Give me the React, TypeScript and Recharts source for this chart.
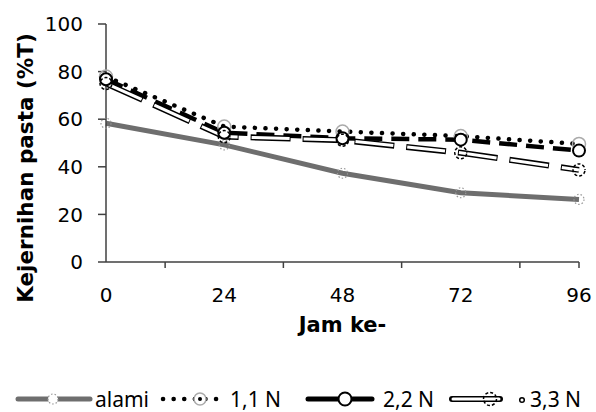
import { LineChart, Line, XAxis, YAxis } from 'recharts';

const hours = [0, 24, 48, 72, 96];
const alami = [58.3, 49.2, 37.3, 29.1, 26.3];
const n11 = [77.9, 56.9, 54.8, 52.9, 49.6];
const n22 = [76.8, 54.3, 52.0, 51.4, 46.8];
const n33 = [75.0, 52.7, 51.2, 45.9, 38.7];
const yTicks = [0, 20, 40, 60, 80, 100];
const xTicks = [0, 12, 24, 36, 48, 60, 72, 84, 96];
const seriesNames = ['alami', '1,1 N', '2,2 N', '3,3 N'];

const data = hours.map((h, i) => ({ jam: h, alami: alami[i], n11: n11[i], n22: n22[i], n33: n33[i] }));

const AXIS = '#404040';
const FONT = '"DejaVu Sans", Verdana, sans-serif';

function XTick(props: any) {
  const { x, y, payload } = props;
  const v = payload.value;
  if (v % 24 === 0) {
    return (
      <g>
        {v === 96 && <line x1={x} y1={y} x2={x} y2={y + 6} stroke={AXIS} strokeWidth={1.5} />}
        <text x={x} y={y + 40} textAnchor="middle" fontSize={20} fontFamily={FONT} fill="#000">
          {v}
        </text>
      </g>
    );
  }
  return <line x1={x} y1={y} x2={x} y2={y + 6} stroke={AXIS} strokeWidth={1.5} />;
}

function Legend() {
  const y = 399;
  const ty = 407;
  const txt = { fontSize: 21, fontFamily: '"Noto Sans", sans-serif', fill: '#000' };
  return (
    <svg width={596} height={412} style={{ position: 'absolute', left: 0, top: 0, pointerEvents: 'none' }}>
      {/* alami */}
      <line x1={18} y1={y} x2={90} y2={y} stroke="#6e6e6e" strokeWidth={5} strokeLinecap="round" />
      <circle cx={53} cy={y} r={5} fill="#fff" stroke="#999" strokeWidth={1.2} strokeDasharray="1.5 2" />
      <text x={95} y={ty} {...txt}>{seriesNames[0]}</text>
      {/* 1,1 N */}
      <line x1={163} y1={y} x2={226} y2={y} stroke="#000" strokeWidth={4.5} strokeDasharray="0.1 10.5" strokeLinecap="round" />
      <circle cx={200} cy={y} r={6} fill="#fff" stroke="#aaa" strokeWidth={1.5} />
      <circle cx={200} cy={y} r={2} fill="#000" />
      <text x={230} y={ty} {...txt}>{seriesNames[1]}</text>
      {/* 2,2 N */}
      <line x1={308} y1={y} x2={372} y2={y} stroke="#000" strokeWidth={5} strokeLinecap="round" />
      <circle cx={345} cy={y} r={6.5} fill="#fff" stroke="#000" strokeWidth={2} />
      <text x={383} y={ty} {...txt}>{seriesNames[2]}</text>
      {/* 3,3 N */}
      <line x1={452} y1={y} x2={500} y2={y} stroke="#000" strokeWidth={6} strokeLinecap="round" />
      <line x1={453} y1={y} x2={499} y2={y} stroke="#fff" strokeWidth={3} strokeLinecap="round" />
      <circle cx={490} cy={y} r={6.5} fill="none" stroke="#000" strokeWidth={1.5} strokeDasharray="3 2" />
      <circle cx={522} cy={y + 1} r={2.3} fill="none" stroke="#000" strokeWidth={1.5} />
      <text x={530} y={ty} {...txt}>{seriesNames[3]}</text>
    </svg>
  );
}

export default function App() {
  return (
    <div style={{ position: 'absolute', left: 0, top: 0, width: 596, height: 412, background: '#fff' }}>
      <LineChart width={596} height={412} data={data} margin={{ top: 24, right: 17, left: 0, bottom: 0 }}>
        <XAxis
          dataKey="jam"
          type="number"
          domain={[0, 96]}
          ticks={xTicks}
          interval={0}
          height={150}
          stroke={AXIS}
          strokeWidth={1.5}
          tickLine={false}
          tickSize={0}
          tickMargin={0}
          tick={<XTick />}
          label={{
            content: (p: any) => {
              const vb = p.viewBox;
              return (
                <text x={vb.x + vb.width / 2} y={vb.y + 70} textAnchor="middle" fontSize={21} fontWeight="bold" fontFamily={FONT}>
                  Jam ke-
                </text>
              );
            },
          }}
        />
        <YAxis
          type="number"
          domain={[0, 100]}
          ticks={yTicks}
          interval={0}
          width={106}
          stroke={AXIS}
          strokeWidth={1.5}
          tickSize={8}
          tickMargin={15}
          tick={{ fontSize: 20, fontFamily: FONT, fill: '#000' }}
          label={{
            content: (p: any) => {
              const vb = p.viewBox;
              const cx = vb.x + 33;
              const cy = vb.y + vb.height / 2 + 25;
              return (
                <text x={cx} y={cy} transform={`rotate(-90 ${cx} ${cy})`} textAnchor="middle" fontSize={21.5} fontWeight="bold" fontFamily={FONT}>
                  Kejernihan pasta (%T)
                </text>
              );
            },
          }}
        />
        <Line
          dataKey="alami"
          stroke="#6e6e6e"
          strokeWidth={5}
          isAnimationActive={false}
          dot={{ r: 5, fill: 'none', stroke: '#999', strokeWidth: 1.2, strokeDasharray: '1.5 2' }}
        />
        <Line
          dataKey="n11"
          stroke="#000"
          strokeWidth={4.5}
          strokeDasharray="0.1 10.5"
          strokeLinecap="round"
          isAnimationActive={false}
          dot={{ r: 6.5, fill: 'none', stroke: '#aaa', strokeWidth: 1.5, strokeDasharray: 'none' }}
        />
        <Line
          dataKey="n22"
          stroke="#000"
          strokeWidth={4.5}
          strokeDasharray="18 9"
          isAnimationActive={false}
          dot={{ r: 6, fill: '#fff', stroke: '#000', strokeWidth: 2, strokeDasharray: 'none' }}
        />
        <Line dataKey="n33" stroke="#000" strokeWidth={6} strokeDasharray="40 12" isAnimationActive={false} dot={false} />
        <Line
          dataKey="n33"
          stroke="#fff"
          strokeWidth={3}
          strokeDasharray="38 14"
          strokeDashoffset={-1}
          isAnimationActive={false}
          dot={{ r: 6, fill: 'none', stroke: '#000', strokeWidth: 1.5, strokeDasharray: '3 2' }}
        />
      </LineChart>
      <Legend />
    </div>
  );
}
